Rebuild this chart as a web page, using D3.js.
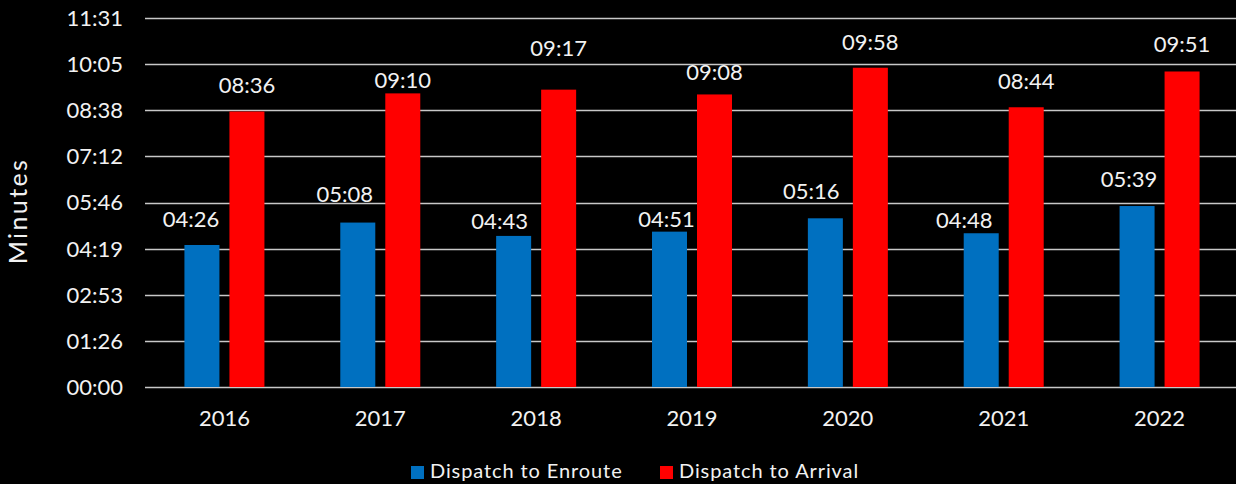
<!DOCTYPE html>
<html>
<head>
<meta charset="utf-8">
<script src="https://cdn.jsdelivr.net/npm/d3@7"></script>
<style>
  body { margin: 0; background: #000; }
  text { font-family: Lato, "Open Sans", sans-serif; fill: #f2f2f2; }
</style>
</head>
<body>
<div class="container"></div>
<script>
// data (times read as mm:ss)
let years = ["2016", "2017", "2018", "2019", "2020", "2021", "2022"];
let enroute = ["04:26", "05:08", "04:43", "04:51", "05:16", "04:48", "05:39"];
let arrival = ["08:36", "09:10", "09:17", "09:08", "09:58", "08:44", "09:51"];
let seriesNames = ["Dispatch to Enroute", "Dispatch to Arrival"];
let seriesColors = ["#0070c0", "#ff0000"];
// excel axis: major unit 0.001 day = 86.4 s
let tickSeconds = [0, 86.4, 172.8, 259.2, 345.6, 432, 518.4, 604.8, 691.2];
let tickLabels = ["00:00", "01:26", "02:53", "04:19", "05:46", "07:12", "08:38", "10:05", "11:31"];

// label placement (excel nudged some of them around)
let labelGap = [[18, 21, 7, 5, 19, 5, 19], [19, 5, 34, 14, 18, 18, 19]];
let labelShift = [[-11, -13, -14, -3, -14, -17, -8], [0, 0, 0, 0, 0, 0, 0]];

let toSec = (s) => { let p = s.split(":"); return +p[0] * 60 + +p[1]; };

let margin = {top: 18, right: 0, bottom: 97, left: 145},
  width = 1236 - margin.left - margin.right,
  height = 484 - margin.top - margin.bottom;

let svg = d3.select(".container").append("svg")
    .attr("width", 1236)
    .attr("height", 484)
  .append("g")
    .attr("transform", "translate(" + margin.left + "," + margin.top + ")");

let x = d3.scaleBand().domain(years).range([1.5, width + 1.5]);
let y = d3.scaleLinear().domain([0, 691.2]).range([height, 0]);
let barW = 35, gap = 10;

// gridlines
svg.append("g")
  .selectAll("line")
  .data(tickSeconds)
  .enter().append("line")
    .attr("x1", 0)
    .attr("x2", width)
    .attr("y1", (d) => Math.round(y(d)) + 0.5)
    .attr("y2", (d) => Math.round(y(d)) + 0.5)
    .style("stroke", "#c8c8c8")
    .style("stroke-width", 1.5);

// y tick labels
svg.append("g")
  .selectAll("text")
  .data(tickSeconds)
  .enter().append("text")
    .attr("x", -22)
    .attr("y", (d) => y(d))
    .attr("dy", "0.36em")
    .attr("text-anchor", "end")
    .style("font-size", "22px")
    .text((d, i) => tickLabels[i]);

// x labels
svg.append("g")
  .selectAll("text")
  .data(years)
  .enter().append("text")
    .attr("x", (d) => x(d) + x.bandwidth() / 2)
    .attr("y", height + 39)
    .attr("text-anchor", "middle")
    .style("font-size", "22px")
    .text((d) => d);

let series = [enroute, arrival];
series.forEach((vals, s) => {
  let off = s === 0 ? -gap / 2 - barW : gap / 2;
  let g = svg.append("g");
  g.selectAll("rect")
    .data(vals)
    .enter().append("rect")
      .attr("x", (d, i) => x(years[i]) + x.bandwidth() / 2 + off)
      .attr("y", (d) => y(toSec(d)))
      .attr("width", barW)
      .attr("height", (d) => height - y(toSec(d)))
      .style("fill", seriesColors[s]);
  g.selectAll("text")
    .data(vals)
    .enter().append("text")
      .attr("x", (d, i) => x(years[i]) + x.bandwidth() / 2 + off + barW / 2 + labelShift[s][i])
      .attr("y", (d, i) => y(toSec(d)) - labelGap[s][i])
      .attr("text-anchor", "middle")
      .style("font-size", "22px")
      .text((d) => d);
});

// y axis title
svg.append("text")
  .attr("transform", "translate(" + (27 - margin.left) + "," + (211 - margin.top) + ") rotate(-90)")
  .attr("text-anchor", "middle")
  .style("font-size", "25px")
  .style("letter-spacing", "2.4px")
  .text("Minutes");

// legend
let legX = [411, 660];
let leg = svg.append("g").attr("transform", "translate(" + (-margin.left) + "," + (-margin.top) + ")");
seriesNames.forEach((n, i) => {
  leg.append("rect")
    .attr("x", legX[i])
    .attr("y", 466)
    .attr("width", 13)
    .attr("height", 13)
    .style("fill", seriesColors[i]);
  leg.append("text")
    .attr("x", legX[i] + 19)
    .attr("y", 478)
    .style("font-size", "20px")
    .style("letter-spacing", "0.9px")
    .text(n);
});
</script>
</body>
</html>
